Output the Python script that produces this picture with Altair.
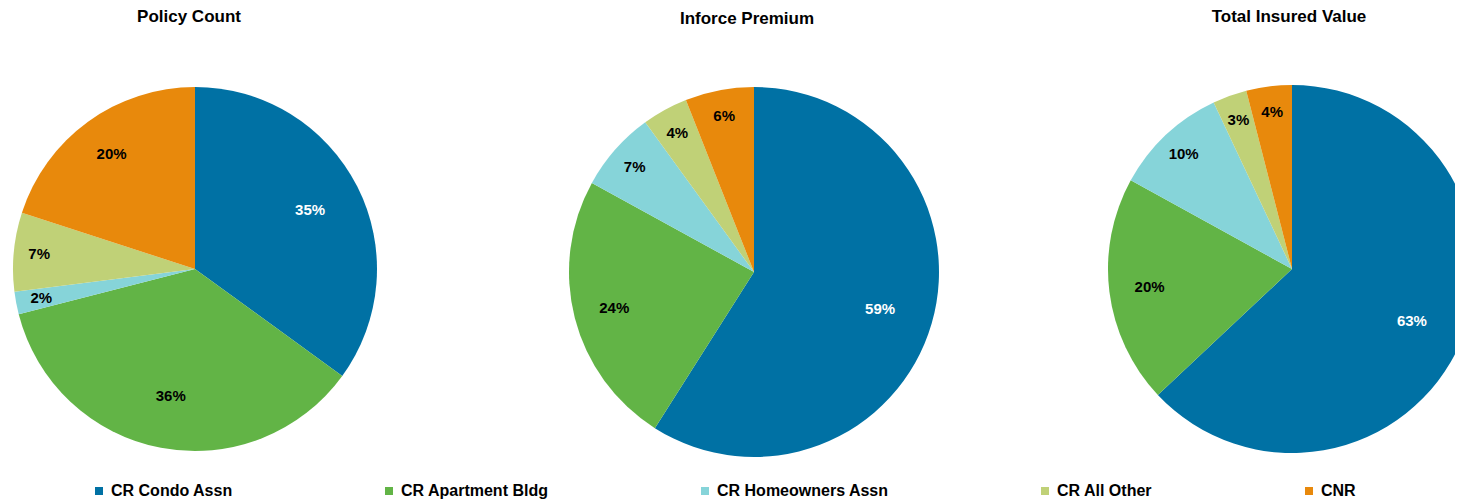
import altair as alt
import pandas as pd

categories = ["CR Condo Assn", "CR Apartment Bldg", "CR Homeowners Assn", "CR All Other", "CNR"]
colors = ["#0071A4", "#62B446", "#86D4D9", "#C0D177", "#E8890C"]
panel_titles = ["Policy Count", "Inforce Premium", "Total Insured Value"]
policy_count = [35, 36, 2, 7, 20]
inforce_premium = [59, 24, 7, 4, 6]
total_insured_value = [63, 20, 10, 3, 4]
series = [policy_count, inforce_premium, total_insured_value]

FONT = "Liberation Sans"
TWO_PI = 6.283185307179586

# layout (pixels inside the view)
centers = [(187, 260), (746, 263), (1284, 260)]
radii = [182, 185, 184]
title_pos = [(181, 8), (739, 10), (1281, 8)]

rows = []
for t, vals in zip(panel_titles, series):
    for i, (c, v) in enumerate(zip(categories, vals)):
        rows.append({"panel": t, "category": c, "idx": i, "value": v, "label": f"{v}%"})
df = pd.DataFrame(rows)

legend = alt.Legend(
    title=None, orient="none", legendX=83, legendY=474, direction="horizontal",
    columns=5, columnPadding=148, symbolType="square", symbolSize=64,
    symbolStrokeWidth=0, labelFontSize=16, labelFont=FONT, labelFontWeight="bold",
    labelOffset=4, labelColor="#000000", labelLimit=300,
)
color = alt.Color("category:N", scale=alt.Scale(domain=categories, range=colors),
                  sort=categories, legend=legend)
theta_scale = alt.Scale(domain=[0, 100], range=[0, TWO_PI])

layers = []
for k, t in enumerate(panel_titles):
    cx, cy = centers[k]
    r = radii[k]
    base = alt.Chart(df).transform_filter(alt.datum.panel == t)
    arc = base.mark_arc(outerRadius=r, clip=True).encode(
        theta=alt.Theta("value:Q", stack=True, scale=theta_scale),
        color=color,
        order=alt.Order("idx:Q"),
        x=alt.value(cx), y=alt.value(cy),
    )
    txt = base.transform_window(
        cum="sum(value)", sort=[alt.SortField("idx", order="ascending")], frame=[None, 0]
    ).transform_calculate(
        mid="datum.cum - datum.value / 2",
        lr=f"datum.value >= 30 ? {r} * 0.71 : (datum.value >= 15 ? {r} * 0.78 : {r} * 0.86)",
    ).mark_text(fontSize=15, fontWeight="bold", font=FONT, clip=True).encode(
        theta=alt.Theta("mid:Q", stack=None, scale=theta_scale),
        radius=alt.Radius("lr:Q", scale=None),
        text="label:N",
        color=alt.condition(alt.datum.idx == 0, alt.value("#ffffff"), alt.value("#000000")),
        x=alt.value(cx), y=alt.value(cy),
    )
    tx, ty = title_pos[k]
    ttl = alt.Chart(pd.DataFrame({"t": [t]})).mark_text(
        fontSize=17, fontWeight="bold", font=FONT, baseline="middle", align="center"
    ).encode(text="t:N", x=alt.value(tx), y=alt.value(ty))
    layers += [arc, txt, ttl]

chart = alt.layer(*layers).properties(
    width=1447, height=484, padding=0
).configure_view(stroke=None)

chart.save("out.html", embed_options={"renderer": "svg", "actions": False})
